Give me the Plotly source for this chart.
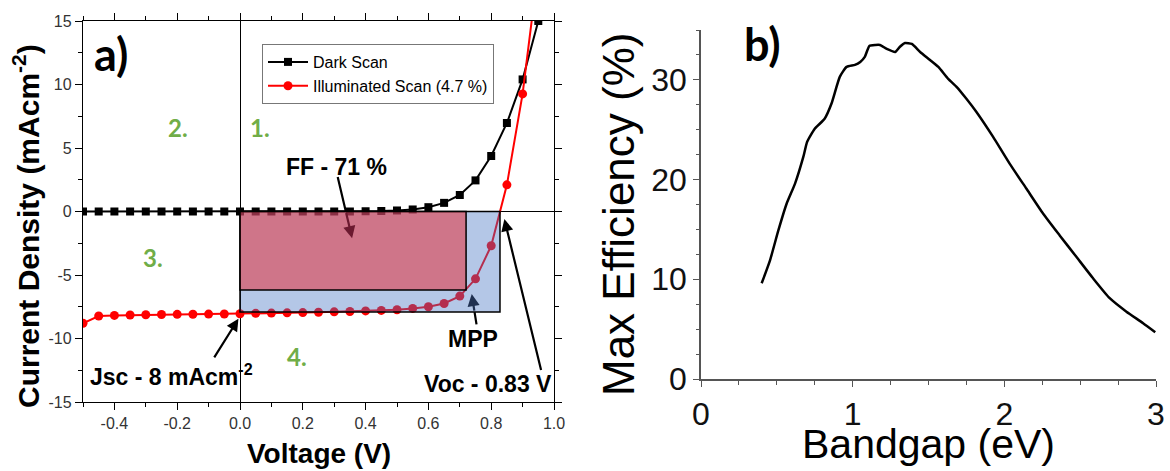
import plotly.graph_objects as go

# ---------------- data ----------------
voltage = [-0.5, -0.45, -0.4, -0.35, -0.3, -0.25, -0.2, -0.15, -0.1, -0.05,
           0.0, 0.05, 0.1, 0.15, 0.2, 0.25, 0.3, 0.35, 0.4, 0.45,
           0.5, 0.55, 0.6, 0.65, 0.7, 0.75, 0.8, 0.85, 0.9, 0.95]
j_dark = [0.0, 0.0, 0.0, 0.0, 0.0, 0.0, 0.0, 0.0, 0.0, 0.0,
          0.0, 0.0, 0.0, 0.0, 0.0, 0.0, 0.0, 0.0, 0.02, 0.04,
          0.08, 0.16, 0.34, 0.68, 1.3, 2.45, 4.37, 6.97, 10.4, 15.0]
j_illum = [-8.8, -8.23, -8.18, -8.15, -8.13, -8.11, -8.1, -8.09, -8.08, -8.07,
           -8.05, -8.02, -8.0, -7.98, -7.96, -7.93, -7.9, -7.87, -7.83, -7.79,
           -7.74, -7.63, -7.5, -7.24, -6.66, -5.3, -2.7, 2.1, 9.26, 19.2]

bandgap = [0.40, 0.455, 0.51, 0.565, 0.62, 0.675, 0.70, 0.75, 0.815, 0.86,
           0.915, 0.96, 1.015, 1.05, 1.08, 1.11, 1.15, 1.18, 1.225, 1.28,
           1.31, 1.345, 1.39, 1.445, 1.51, 1.565, 1.63, 1.685, 1.75, 1.815,
           1.925, 2.035, 2.145, 2.255, 2.365, 2.475, 2.585, 2.695, 2.805, 2.915, 2.995]
max_eff = [9.6, 11.9, 14.9, 17.6, 19.6, 22.3, 23.8, 25.1, 26.1, 27.6,
           30.3, 31.3, 31.5, 31.8, 32.3, 33.4, 33.5, 33.5, 33.1, 32.8,
           33.3, 33.7, 33.6, 32.8, 32.0, 31.3, 30.1, 29.3, 28.1, 26.8,
           24.3, 21.6, 19.1, 16.6, 14.4, 12.25, 10.1, 8.1, 6.75, 5.6, 4.7]

# key device values (from the figure annotations)
v_mpp, j_mpp = 0.72, -6.18
v_oc, j_sc = 0.828, -7.92

x_ticks_a = [-0.4, -0.2, 0.0, 0.2, 0.4, 0.6, 0.8, 1.0]
y_ticks_a = [-15, -10, -5, 0, 5, 10, 15]
x_ticks_b = [0, 1, 2, 3]
y_ticks_b = [0, 10, 20, 30]

W, H = 1170, 471
ARIAL = "Liberation Sans, Arial, sans-serif"
CAL = "Lato, Carlito, Calibri, sans-serif"
GREEN = "#70AD47"

fig = go.Figure()

fig.add_trace(go.Scatter(
    x=voltage, y=j_dark, name="Dark Scan", mode="lines+markers",
    line=dict(color="black", width=2),
    marker=dict(symbol="square", size=8, color="black"),
    xaxis="x", yaxis="y"))
fig.add_trace(go.Scatter(
    x=voltage, y=j_illum, name="Illuminated Scan (4.7 %)", mode="lines+markers",
    line=dict(color="#FF0000", width=2),
    marker=dict(symbol="circle", size=9, color="#FF0000"),
    xaxis="x", yaxis="y"))
fig.add_trace(go.Scatter(
    x=bandgap, y=max_eff, mode="lines", showlegend=False,
    line=dict(color="black", width=2.5, shape="spline", smoothing=0.5),
    xaxis="x2", yaxis="y2"))

# rectangles (semi-transparent, drawn above the curves)
fig.add_shape(type="rect", xref="x", yref="y", x0=0, x1=v_oc, y0=0, y1=j_sc,
              fillcolor="rgba(68,114,196,0.4)", line=dict(color="black", width=1.5),
              layer="above")
fig.add_shape(type="rect", xref="x", yref="y", x0=0, x1=v_mpp, y0=0, y1=j_mpp,
              fillcolor="rgba(230,50,60,0.55)", line=dict(color="black", width=1.5),
              layer="above")

ann = []


def arrow(x, y, ax, ay, color="black", head=2, width=2.2, size=1.1):
    ann.append(dict(x=x, y=y, ax=ax, ay=ay, xref="x", yref="y", axref="x", ayref="y",
                    text="", showarrow=True, arrowhead=head, arrowsize=size,
                    arrowwidth=width, arrowcolor=color, standoff=0, startstandoff=0))


# FF arrow (black outside the box, dark maroon inside)
arrow(0.337, 0.0, 0.31, 2.84, head=0)
arrow(0.357, -2.1, 0.337, 0.0, color="#6B1A30")
# MPP arrow (black below the box, navy inside)
arrow(0.747, -7.92, 0.754, -9.0, head=0)
arrow(0.738, -6.5, 0.747, -7.92, color="#1F3050")
# Jsc arrow
arrow(-0.005, -8.45, -0.085, -11.6)
# Voc arrow
arrow(0.842, -0.6, 0.96, -12.6)


def label(x, y, text, size=23, color="black", family=ARIAL, bold=True, xanchor="center"):
    ann.append(dict(x=x, y=y, xref="x", yref="y", text=f"<b>{text}</b>" if bold else text,
                    showarrow=False, xanchor=xanchor, yanchor="middle",
                    font=dict(family=family, size=size, color=color)))


label(0.308, 3.5, "FF - 71 %")
label(0.742, -10.0, "MPP")
label(0.790, -13.6, "Voc - 0.83 V")
label(-0.485, -12.9, "Jsc - 8 mAcm<sup>-2</sup>", xanchor="left")
label(0.064, 6.6, "1.", size=24, color=GREEN, family=CAL)
label(-0.197, 6.6, "2.", size=24, color=GREEN, family=CAL)
label(-0.277, -3.6, "3.", size=24, color=GREEN, family=CAL)
label(0.18, -11.4, "4.", size=24, color=GREEN, family=CAL)
label(-0.41, 12.4, "a)", size=45, family=CAL)

# panel b label and axis titles (paper coordinates)
ann.append(dict(x=762 / W, y=1 - 44 / H, xref="paper", yref="paper", text="<b>b)</b>",
                showarrow=False, xanchor="center", yanchor="middle",
                font=dict(family=CAL, size=45, color="black")))
ann.append(dict(x=319 / W, y=1 - 453 / H, xref="paper", yref="paper", text="<b>Voltage (V)</b>",
                showarrow=False, xanchor="center", yanchor="middle",
                font=dict(family=ARIAL, size=28, color="black")))
ann.append(dict(x=26 / W, y=1 - 226 / H, xref="paper", yref="paper",
                text="<b>Current Density (mAcm<sup>-2</sup>)</b>", textangle=-90,
                showarrow=False, xanchor="center", yanchor="middle",
                font=dict(family=ARIAL, size=30, color="black")))
ann.append(dict(x=618 / W, y=1 - 214 / H, xref="paper", yref="paper",
                text="Max Efficiency (%)", textangle=-90,
                showarrow=False, xanchor="center", yanchor="middle",
                font=dict(family=ARIAL, size=44, color="black")))
ann.append(dict(x=928 / W, y=1 - 444 / H, xref="paper", yref="paper",
                text="Bandgap (eV)",
                showarrow=False, xanchor="center", yanchor="middle",
                font=dict(family=ARIAL, size=41, color="black")))

axis_a = dict(showgrid=False, showline=True, linecolor="black", linewidth=1.3,
              mirror="allticks", ticks="outside", ticklen=7, tickwidth=1.2, tickcolor="black",
              zeroline=True, zerolinecolor="black", zerolinewidth=1.2, automargin=False,
              tickfont=dict(family=ARIAL, size=16, color="#333"))

fig.update_layout(
    template="none",
    width=W, height=H, autosize=False,
    margin=dict(l=0, r=0, t=0, b=0, pad=0),
    paper_bgcolor="white", plot_bgcolor="white",
    showlegend=True,
    legend=dict(x=262 / W, y=1 - 44 / H, xanchor="left", yanchor="top",
                bgcolor="white", bordercolor="#777", borderwidth=1,
                font=dict(family=ARIAL, size=16, color="black"),
                tracegroupgap=0, itemwidth=40),
    xaxis=dict(domain=[83 / W, 554 / W], range=[-0.5, 1.0],
               tickvals=x_ticks_a, ticktext=[f"{v:.1f}" for v in x_ticks_a],
               minor=dict(dtick=0.1, tick0=0, ticklen=4, tickcolor="black", ticks="outside"),
               anchor="y", **axis_a),
    yaxis=dict(domain=[1 - 402 / H, 1 - 21 / H], range=[-15, 15],
               tickvals=y_ticks_a, ticktext=[str(v) for v in y_ticks_a],
               minor=dict(dtick=2.5, tick0=0, ticklen=4, tickcolor="black", ticks="outside"),
               anchor="x", **axis_a),
    xaxis2=dict(domain=[701 / W, 1156 / W], range=[0, 3], anchor="y2",
                tickvals=x_ticks_b, showgrid=False, zeroline=False, automargin=False,
                showline=True, linecolor="#555", linewidth=1.6,
                ticks="outside", ticklen=6, tickwidth=1.4, tickcolor="#555",
                minor=dict(dtick=0.25, tick0=0, ticklen=4, tickcolor="#555", ticks="outside"),
                tickfont=dict(family=ARIAL, size=32, color="#111")),
    yaxis2=dict(domain=[1 - 379 / H, 1 - 30 / H], range=[0, 35], anchor="x2",
                tickvals=y_ticks_b, showgrid=False, zeroline=False, automargin=False,
                showline=True, linecolor="#555", linewidth=1.6,
                ticks="outside", ticklen=6, tickwidth=1.4, tickcolor="#555",
                minor=dict(dtick=2.5, tick0=0, ticklen=3, tickcolor="#555", ticks="outside"),
                tickfont=dict(family=ARIAL, size=32, color="#111")),
    annotations=ann,
)

fig.write_html("out.html")
